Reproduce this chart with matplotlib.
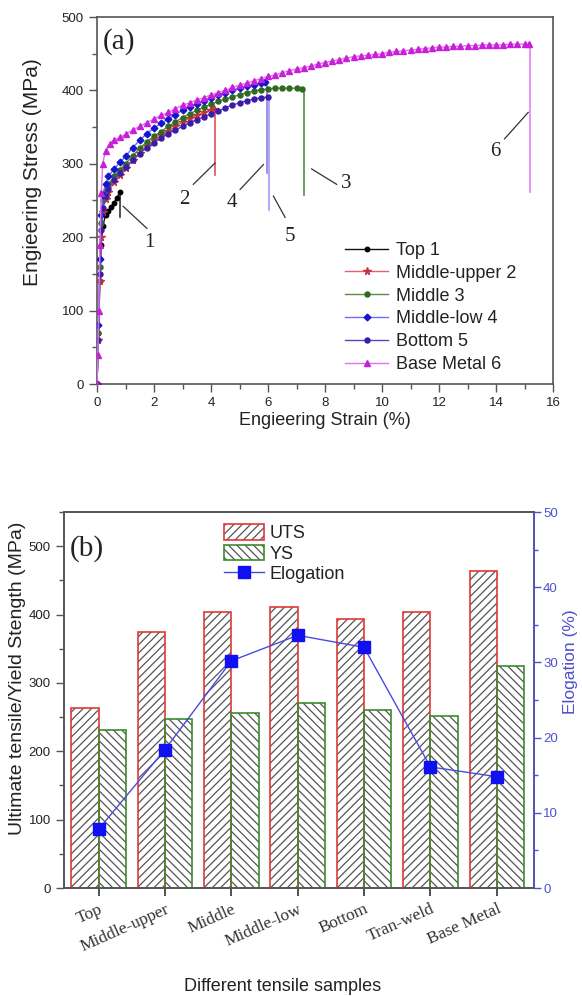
import matplotlib
matplotlib.use('Agg')
import matplotlib.pyplot as plt
import matplotlib.transforms as mtransforms
from matplotlib.patches import Patch
from matplotlib.lines import Line2D
from matplotlib.legend_handler import HandlerTuple

plt.rcParams['font.family'] = ['Liberation Sans', 'DejaVu Sans']
plt.rcParams['hatch.linewidth'] = 0.9

# ---- (a) stress-strain curves ----
strain_top = [0, 0.05, 0.1, 0.15, 0.2, 0.3, 0.4, 0.5, 0.6, 0.7, 0.8]
stress_top = [0, 70, 140, 190, 215, 230, 236, 241, 247, 254, 261]

strain_mu = [0, 0.05, 0.1, 0.15, 0.2, 0.3, 0.4, 0.6, 0.8, 1.0, 1.25, 1.5, 1.75, 2.0, 2.25, 2.5,
             2.75, 3.0, 3.25, 3.5, 3.75, 4.0, 4.1]
stress_mu = [0, 60, 140, 200, 235, 252, 262, 275, 285, 294, 305, 315, 324, 332, 339, 345,
             351, 357, 362, 366, 370, 373, 374]

strain_mid = [0, 0.05, 0.1, 0.15, 0.2, 0.3, 0.4, 0.6, 0.8, 1.0, 1.25, 1.5, 1.75, 2.0, 2.25, 2.5,
              2.75, 3.0, 3.25, 3.5, 3.75, 4.0, 4.25, 4.5, 4.75, 5.0, 5.25, 5.5, 5.75, 6.0, 6.25,
              6.5, 6.75, 7.0, 7.2]
stress_mid = [0, 70, 160, 220, 250, 263, 272, 283, 292, 300, 311, 321, 330, 338, 344, 351,
              357, 363, 368, 373, 377, 381, 385, 388, 391, 394, 397, 399, 401, 402, 403,
              403, 403, 403, 402]

strain_ml = [0, 0.05, 0.1, 0.15, 0.2, 0.3, 0.4, 0.6, 0.8, 1.0, 1.25, 1.5, 1.75, 2.0, 2.25, 2.5,
             2.75, 3.0, 3.25, 3.5, 3.75, 4.0, 4.25, 4.5, 4.75, 5.0, 5.25, 5.5, 5.75, 5.9]
stress_ml = [0, 80, 170, 230, 258, 272, 283, 293, 302, 310, 322, 332, 341, 349, 355, 361,
             367, 373, 378, 382, 386, 390, 394, 397, 400, 403, 406, 408, 410, 411]

strain_bot = [0, 0.05, 0.1, 0.15, 0.2, 0.3, 0.4, 0.6, 0.8, 1.0, 1.25, 1.5, 1.75, 2.0, 2.25, 2.5,
              2.75, 3.0, 3.25, 3.5, 3.75, 4.0, 4.25, 4.5, 4.75, 5.0, 5.25, 5.5, 5.75, 6.0]
stress_bot = [0, 60, 150, 210, 240, 256, 266, 278, 287, 295, 305, 314, 322, 329, 335, 341,
              346, 351, 356, 360, 364, 368, 372, 376, 380, 383, 386, 388, 390, 391]

strain_base = [0, 0.03, 0.06, 0.1, 0.15, 0.2, 0.3, 0.45, 0.6, 0.8, 1.0, 1.25, 1.5, 1.75, 2.0,
               2.25, 2.5, 2.75, 3.0, 3.25, 3.5, 3.75, 4.0, 4.25, 4.5, 4.75, 5.0, 5.25, 5.5,
               5.75, 6.0, 6.25, 6.5, 6.75, 7.0, 7.25, 7.5, 7.75, 8.0, 8.25, 8.5, 8.75, 9.0,
               9.25, 9.5, 9.75, 10.0, 10.25, 10.5, 10.75, 11.0, 11.25, 11.5, 11.75, 12.0,
               12.25, 12.5, 12.75, 13.0, 13.25, 13.5, 13.75, 14.0, 14.25, 14.5, 14.75, 15.0, 15.15]
stress_base = [0, 40, 100, 190, 260, 300, 318, 327, 332, 336, 340, 346, 351, 356, 361,
               366, 370, 375, 380, 383, 387, 390, 394, 397, 400, 404, 407, 410, 413,
               416, 419, 421, 424, 427, 429, 431, 433, 436, 438, 440, 442, 444, 446,
               447, 448, 449, 450, 452, 453, 454, 455, 456, 457, 458, 459,
               459, 460, 460, 461, 461, 462, 462, 462, 462, 463, 463, 463, 463]

# where each sample breaks (vertical drop)
fracture_strain = [0.82, 4.14, 7.26, 5.95, 6.05, 15.2]
fracture_stress = [228, 285, 258, 288, 237, 262]

curve_labels = ['Top 1', 'Middle-upper 2', 'Middle 3', 'Middle-low 4', 'Bottom 5', 'Base Metal 6']

# ---- (b) strength / elongation ----
samples = ['Top', 'Middle-upper', 'Middle', 'Middle-low', 'Bottom', 'Tran-weld', 'Base Metal']
uts = [263, 374, 404, 411, 393, 404, 464]
ys = [231, 247, 256, 270, 260, 252, 325]
elongation = [7.8, 18.4, 30.2, 33.6, 32.0, 16.1, 14.8]

W, H = 582, 996
fig = plt.figure(figsize=(W / 100, H / 100), dpi=100)

def box(l, t, r, b):
    return [l / W, 1 - b / H, (r - l) / W, (b - t) / H]

txt = '#222222'
spine_c = '#555555'

# ================= panel (a) =================
ax1 = fig.add_axes(box(97, 17, 553, 384))

curves = [
    (strain_top, stress_top, '#111111', '#000000', 'o', 3.2),
    (strain_mu, stress_mu, '#e8606a', '#c8303c', '*', 5.5),
    (strain_mid, stress_mid, '#5a8a48', '#2f6a20', 'o', 3.6),
    (strain_ml, stress_ml, '#6c6cf0', '#1414d0', 'D', 3.4),
    (strain_bot, stress_bot, '#5a44c8', '#3a1ca8', 'o', 3.6),
    (strain_base, stress_base, '#e070f0', '#c820d8', '^', 4.0),
]
drop_colors = ['#333333', '#e05060', '#5a8a4a', '#8080f0', '#a898f0', '#e080f0']

handles = []
for i, (sx, sy, lc, mc, mk, ms) in enumerate(curves):
    ax1.plot([sx[-1], fracture_strain[i]], [sy[-1], sy[-1]], color=lc, lw=1.0, zorder=2)
    ax1.plot([fracture_strain[i], fracture_strain[i]], [sy[-1], fracture_stress[i]],
             color=drop_colors[i], lw=1.2, zorder=2)
for i in [5, 1, 2, 4, 3, 0]:
    sx, sy, lc, mc, mk, ms = curves[i]
    ax1.plot(sx, sy, color=lc, lw=1.0, marker=mk, ms=ms, mfc=mc, mec=mc, zorder=3 + i * 0.1)
for i, (sx, sy, lc, mc, mk, ms) in enumerate(curves):
    handles.append(Line2D([], [], color=lc, lw=1.0, marker=mk, ms=ms, mfc=mc, mec=mc))

ax1.set_xlim(0, 16)
ax1.set_ylim(0, 500)
ax1.set_xticks(range(0, 17, 2))
ax1.set_xticks(range(0, 17, 1), minor=True)
ax1.set_yticks(range(0, 501, 100))
ax1.set_yticks(range(0, 501, 50), minor=True)
ax1.tick_params(direction='out', length=6, width=1, colors=spine_c, labelcolor=txt, labelsize=9.5)
ax1.tick_params(which='minor', direction='out', length=3.5, width=1, colors=spine_c)
for s in ax1.spines.values():
    s.set_color(spine_c)
    s.set_linewidth(1.2)
ax1.set_xlabel('Engieering Strain (%)', fontsize=13, color=txt, labelpad=2)
fig.text(33 / W, 1 - 172 / H, 'Engieering Stress (MPa)', rotation=90, fontsize=15,
         color=txt, ha='center', va='center')

ax1.text(0.013, 0.932, '(a)', transform=ax1.transAxes, family='Liberation Serif',
         fontsize=21, color=txt, ha='left', va='center')

# number labels with leader lines
num_text = ['1', '2', '3', '4', '5', '6']
num_pos = [(1.82, 193), (3.05, 251), (8.74, 273), (4.74, 247), (6.77, 201), (13.96, 317)]
lead_from = [(1.75, 212), (3.38, 272), (8.41, 272), (5.02, 265), (6.6, 227), (14.3, 334)]
lead_to = [(0.92, 242), (4.14, 301), (7.53, 293), (5.84, 299), (6.19, 256), (15.13, 370)]
for t, p, a, b in zip(num_text, num_pos, lead_from, lead_to):
    ax1.plot([a[0], b[0]], [a[1], b[1]], color='#333333', lw=0.9, zorder=5)
    ax1.text(p[0], p[1], t, family='Liberation Serif', fontsize=15, color=txt,
             ha='center', va='center')

leg1 = ax1.legend(handles, curve_labels, loc='upper left', frameon=False, fontsize=13,
                  bbox_to_anchor=(336 / W, 1 - 233 / H), bbox_transform=fig.transFigure,
                  handlelength=2.4, handletextpad=0.4, labelspacing=0.32, borderpad=0)
for t in leg1.get_texts():
    t.set_color(txt)

# ================= panel (b) =================
ax2 = fig.add_axes(box(64, 512, 534, 888))
x = list(range(len(samples)))
w = 0.41
xu = [i - w / 2 for i in x]
xy = [i + w / 2 for i in x]
hatch_c = '#555555'
ax2.bar(xu, uts, w, facecolor='white', edgecolor=hatch_c, hatch='////', lw=0, zorder=2)
ax2.bar(xu, uts, w, facecolor='none', edgecolor='#e03838', lw=1.2, zorder=3)
ax2.bar(xy, ys, w, facecolor='white', edgecolor=hatch_c, hatch='\\\\\\\\', lw=0, zorder=2)
ax2.bar(xy, ys, w, facecolor='none', edgecolor='#3c8a2c', lw=1.2, zorder=3)

ax2.set_xlim(-0.52, 6.56)
ax2.set_ylim(0, 550)
ax2.set_yticks(range(0, 501, 100))
ax2.set_yticks(range(0, 551, 50), minor=True)
ax2.set_xticks(x)
ax2.set_xticklabels(samples, rotation=24, ha='right', rotation_mode='anchor',
                    family='Liberation Serif', fontsize=12.5, color='#555555')
offset = mtransforms.ScaledTranslation(17 / 100, -2 / 100, fig.dpi_scale_trans)
for lab in ax2.get_xticklabels():
    lab.set_transform(lab.get_transform() + offset)
ax2.tick_params(axis='y', direction='out', length=6, width=1, colors=spine_c, labelcolor=txt, labelsize=9.5)
ax2.tick_params(axis='y', which='minor', direction='out', length=3.5, width=1, colors=spine_c)
ax2.tick_params(axis='x', direction='out', length=6, width=1.2, colors='#333333')
for s in ax2.spines.values():
    s.set_color(spine_c)
    s.set_linewidth(1.2)
fig.text(18 / W, 1 - 678 / H, 'Ultimate tensile/Yield Stength (MPa)', rotation=90,
         fontsize=14, color=txt, ha='center', va='center')
fig.text(283 / W, 1 - 986 / H, 'Different tensile samples', fontsize=13, color=txt,
         ha='center', va='center')

blue_ax = '#5050cc'
ax3 = ax2.twinx()
ax3.plot(x, elongation, color='#4a4ae0', lw=1.0, marker='s', ms=8, mfc='#1010f0',
         mec='#1010f0', zorder=5)
ax3.set_ylim(0, 50)
ax3.set_yticks(range(0, 51, 10))
ax3.set_yticks(range(0, 51, 5), minor=True)
ax3.tick_params(axis='y', direction='out', length=5, width=1, pad=1.5, colors=blue_ax,
                labelcolor=blue_ax, labelsize=9.5)
ax3.tick_params(axis='y', which='minor', direction='out', length=3, width=1, colors=blue_ax)
for k, s in ax3.spines.items():
    s.set_linewidth(1.2)
    s.set_color(spine_c)
ax3.spines['right'].set_color(blue_ax)
fig.text(570 / W, 1 - 662 / H, 'Elogation (%)', rotation=90, fontsize=12.5, color=blue_ax,
         ha='center', va='center')

ax2.text(0.013, 0.904, '(b)', transform=ax2.transAxes, family='Liberation Serif',
         fontsize=21, color=txt, ha='left', va='center')

h_uts = (Patch(facecolor='white', edgecolor=hatch_c, hatch='////', lw=0),
         Patch(facecolor='none', edgecolor='#e03838', lw=1.2))
h_ys = (Patch(facecolor='white', edgecolor=hatch_c, hatch='\\\\\\\\', lw=0),
        Patch(facecolor='none', edgecolor='#3c8a2c', lw=1.2))
h_el = Line2D([], [], color='#4a4ae0', lw=1.0, marker='s', ms=8, mfc='#1010f0', mec='#1010f0')
leg2 = ax3.legend([h_uts, h_ys, h_el], ['UTS', 'YS', 'Elogation'], loc='upper left',
                  frameon=False, fontsize=13, handler_map={tuple: HandlerTuple(ndivide=1)},
                  bbox_to_anchor=(215 / W, 1 - 515 / H), bbox_transform=fig.transFigure,
                  handlelength=2.2, handleheight=0.95, handletextpad=0.3, labelspacing=0.15,
                  borderpad=0)
for t in leg2.get_texts():
    t.set_color(txt)

fig.savefig('out.png', dpi=100)
